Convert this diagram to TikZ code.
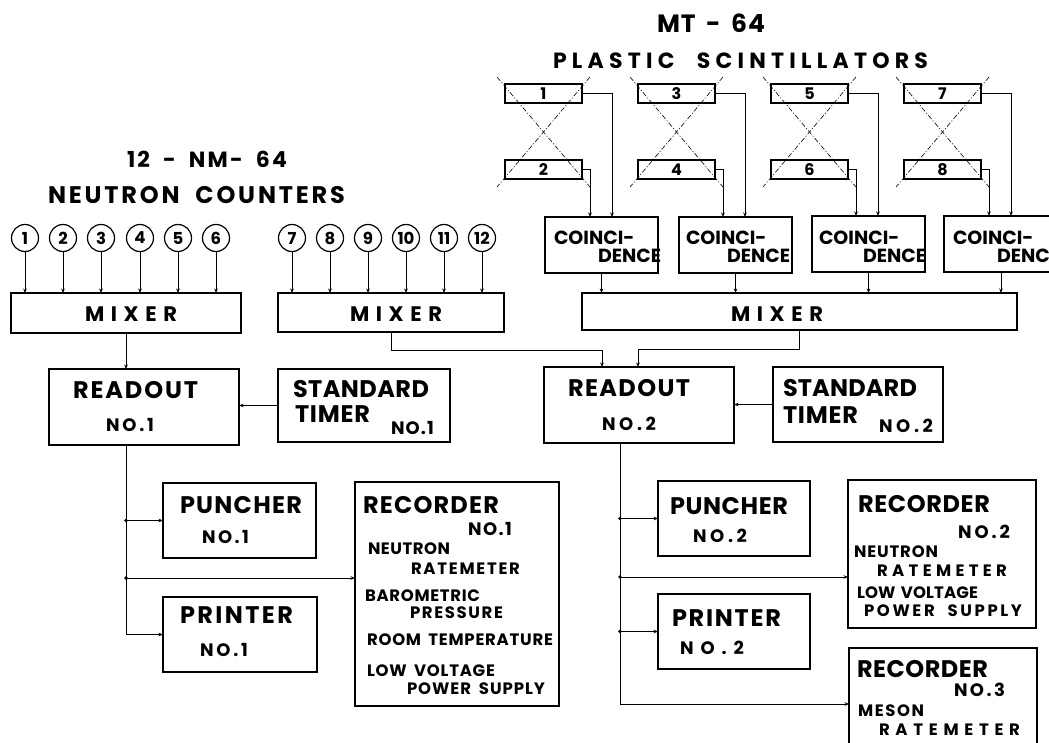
\documentclass[tikz,border=0pt]{standalone}
\usepackage{fontspec}
\setmainfont{Poppins}
\usetikzlibrary{arrows.meta,calc}
\def\sprA#1{#1\sprB}
\def\sprB#1{\ifx\relax#1\else\hfil#1\expandafter\sprB\fi}
\newcommand\spr[2]{\makebox[#1pt][s]{\sprA#2\relax}}
\newcommand\gap{\hskip .3em\hfil}
\newcommand\fL{\fontsize{24}{24}\selectfont}
\newcommand\fM{\fontsize{18}{18}\selectfont}
\newcommand\fS{\fontsize{16.5}{16.5}\selectfont}
\newcommand\fC{\fontsize{19}{19}\selectfont}
\newcommand\bxat[5]{\node[bx,anchor=north west,minimum width=#4pt,minimum height=#5pt] (#1) at (#2,#3) {};}
\begin{document}
\begin{tikzpicture}[x=1pt,y=-1pt,font=\bfseries,
  bx/.style={draw,line width=1.6pt,inner sep=0pt,outer sep=0pt},
  sbx/.style={draw,line width=1.5pt,inner sep=0pt,outer sep=0pt,minimum width=77pt,minimum height=19pt,anchor=north west,font=\bfseries\fontsize{16}{16}\selectfont},
  cnt/.style={draw,circle,line width=1.2pt,minimum size=27pt,inner sep=0pt,font=\bfseries\fontsize{16.5}{16.5}\selectfont},
  ln/.style={line width=0.9pt},
  arr/.style={ln,-{Stealth[length=4.5pt,width=3.6pt]}},
  xl/.style={line width=0.6pt,dash pattern=on 5pt off 2pt on 1pt off 2pt},
  tx/.style={inner sep=0pt,outer sep=0pt,anchor=west}]
\fill[white] (0,0) rectangle (1049,743);
\useasboundingbox (0,0) rectangle (1049,743);

% titles
\node[tx] (tMT) at (657,23) {\fontsize{25}{25}\selectfont\spr{108}{MT\gap-\gap64}};
\node[tx] (tPS) at (553,61) {\fontsize{22}{22}\selectfont\spr{375}{PLASTIC\gap SCINTILLATORS}};
\node[tx] (tNM) at (127,159) {\fontsize{22}{22}\selectfont\spr{160}{12\gap-\gap NM-\gap64}};
\node[tx] (tNC) at (48,195) {\fontsize{24}{24}\selectfont\spr{297}{NEUTRON\gap COUNTERS}};

% boxes
\bxat{mx1}{11}{293}{230}{40}
\bxat{mx2}{278}{293}{226}{39}
\bxat{mx3}{582}{293}{435}{37}
\bxat{ro1}{49}{369}{190}{76}
\bxat{tm1}{278}{369}{172}{73}
\bxat{ro2}{544}{367}{190}{76}
\bxat{tm2}{773}{367}{170}{75}
\bxat{pu1}{163}{483}{153}{75}
\bxat{pr1}{163}{597}{154}{75}
\bxat{rc1}{355}{482}{204}{224}
\bxat{pu2}{658}{481}{152}{75}
\bxat{pr2}{658}{594}{152}{75}
\bxat{rc2}{848}{480}{188}{148}
\bxat{rc3}{849}{648}{188}{112}
\bxat{co1}{545}{217}{113}{56}
\bxat{co2}{679}{217}{113}{56}
\bxat{co3}{812}{216}{113}{56}
\bxat{co4}{944}{216}{114}{56}

% neutron counters
\foreach \n/\x in {1/25,2/63,3/101,4/140,5/178,6/216}{
  \node[cnt] (n\n) at (\x,238) {\n};
  \draw[arr] (n\n.south) -- (n\n.south |- mx1.north);
}
\foreach \n/\x in {7/292,8/330,9/368,10/406,11/444,12/482}{
  \node[cnt] (n\n) at (\x,238) {\n};
  \draw[arr] (n\n.south) -- (n\n.south |- mx2.north);
}

% scintillators
\foreach \a/\b/\L/\c in {1/2/505/co1,3/4/638/co2,5/6/771/co3,7/8/904/co4}{
  \node[sbx] (s\a) at (\L,84) {\a};
  \node[sbx] (s\b) at (\L,160) {\b};
  \draw[xl] ($(s\a.north west)+(-8,-7)$) -- ($(s\b.south east)+(8,8)$);
  \draw[xl] ($(s\a.north east)+(8,-7)$) -- ($(s\b.south west)+(-8,8)$);
  \draw[arr] (s\a.east) -- ++(30,0) coordinate (ka\a) -- (ka\a |- \c.north);
  \draw[arr] (s\b.east) -- ++(8,0) coordinate (kb\b) -- (kb\b |- \c.north);
  \draw[arr] (\c.south) -- (\c.south |- mx3.north);
}

% mixers to readouts
\draw[arr] (mx1.south) -- (mx1.south |- ro1.north);
\coordinate (a1) at (602,350);
\coordinate (a2) at (638,349);
\draw[arr] (mx2.south) |- (a1) -- (a1 |- ro2.north);
\draw[arr] (mx3.south) |- (a2) -- (a2 |- ro2.north);
\draw[arr] (tm1.west) -- (tm1.west -| ro1.east);
\draw[arr] (tm2.west) -- (tm2.west -| ro2.east);

% readout 1 tree
\coordinate (j1) at (126,578);
\draw[arr] (mx1.south |- ro1.south) |- (pr1.west);
\draw[arr] (mx1.south |- pu1.west) -- (pu1.west);
\draw[arr] (j1) -- (j1 -| rc1.west);
\fill (mx1.south |- pu1.west) circle (1.8);
\fill (j1) circle (1.8);

% readout 2 tree
\coordinate (j4) at (620,704);
\coordinate (j3) at (620,577);
\draw[arr] (j4 |- ro2.south) |- (rc3.west);
\draw[arr] (j4 |- pu2.west) -- (pu2.west);
\draw[arr] (j4 |- pr2.west) -- (pr2.west);
\draw[arr] (j3) -- (j3 -| rc2.west);
\fill (j4 |- pu2.west) circle (1.8);
\fill (j3) circle (1.8);
\fill (j4 |- pr2.west) circle (1.8);

% texts
\node[tx] (tmx1) at (85,314) {\fontsize{21}{21}\selectfont\spr{92}{MIXER}};
\node[tx] (tmx2) at (350,314) {\fontsize{21}{21}\selectfont\spr{92}{MIXER}};
\node[tx] (tmx3) at (731,314) {\fontsize{21}{21}\selectfont\spr{92}{MIXER}};

\node[tx] (tro1) at (73,390) {\fL\spr{125}{READOUT}};
\node[tx] (tron1) at (106,425) {\fM\spr{48}{NO.1}};
\node[tx] (tro2) at (568,388) {\fL\spr{122}{READOUT}};
\node[tx] (tron2) at (602,424) {\fM\spr{54}{NO.2}};
\node[tx] (tst1) at (293,389) {\fL\spr{136}{STANDARD}};
\node[tx] (tti1) at (295,414) {\fL\spr{75}{TIMER}};
\node[tx] (ttn1) at (391,428) {\fM\spr{43}{NO.1}};
\node[tx] (tst2) at (783,388) {\fL\spr{134}{STANDARD}};
\node[tx] (tti2) at (783,415) {\fL\spr{75}{TIMER}};
\node[tx] (ttn2) at (879,426) {\fM\spr{54}{NO.2}};

\node[tx] (tpu1) at (180,505) {\fL\spr{122}{PUNCHER}};
\node[tx] (tpun1) at (202,537) {\fM\spr{47}{NO.1}};
\node[tx] (tpr1) at (180,615) {\fL\spr{113}{PRINTER}};
\node[tx] (tprn1) at (200,650) {\fM\spr{48}{NO.1}};
\node[tx] (tpu2) at (670,506) {\fL\spr{118}{PUNCHER}};
\node[tx] (tpun2) at (693,536) {\fM\spr{54}{NO.2}};
\node[tx] (tpr2) at (672,618) {\fL\spr{109}{PRINTER}};
\node[tx] (tprn2) at (680,648) {\fM\spr{64}{NO.2}};

\node[tx] (trc1) at (363,505) {\fL\spr{136}{RECORDER}};
\node[tx] (trcn1) at (468,529) {\fM\spr{44}{NO.1}};
\node[tx] (tr1a) at (368,549) {\fS\spr{82}{NEUTRON}};
\node[tx] (tr1b) at (411,569) {\fS\spr{109}{RATEMETER}};
\node[tx] (tr1c) at (365,596) {\fS\spr{115}{BAROMETRIC}};
\node[tx] (tr1d) at (410,613) {\fS\spr{93}{PRESSURE}};
\node[tx] (tr1e) at (367,640) {\fS\spr{186}{ROOM\gap TEMPERATURE}};
\node[tx] (tr1f) at (367,671) {\fS\spr{128}{LOW\gap VOLTAGE}};
\node[tx] (tr1g) at (407,689) {\fS\spr{138}{POWER\gap SUPPLY}};

\node[tx] (trc2) at (858,504) {\fL\spr{132}{RECORDER}};
\node[tx] (trcn2) at (958,532) {\fM\spr{52}{NO.2}};
\node[tx] (tr2a) at (854,552) {\fS\spr{84}{NEUTRON}};
\node[tx] (tr2b) at (877,571) {\fS\spr{130}{RATEMETER}};
\node[tx] (tr2c) at (857,593) {\fS\spr{121}{LOW\gap VOLTAGE}};
\node[tx] (tr2d) at (864,611) {\fS\spr{158}{POWER\gap SUPPLY}};

\node[tx] (trc3) at (857,669) {\fL\spr{131}{RECORDER}};
\node[tx] (trcn3) at (954,690) {\fM\spr{51}{NO.3}};
\node[tx] (tr3a) at (858,711) {\fS\spr{66}{MESON}};
\node[tx] (tr3b) at (879,730) {\fS\spr{141}{RATEMETER}};

\node[tx] (tc1a) at (554,238) {\fC\spr{70}{COINCI-}};
\node[tx] (tc1b) at (598,256) {\fC\spr{55}{DENCE}};
\node[tx] (tc2a) at (686,238) {\fC\spr{68}{COINCI-}};
\node[tx] (tc2b) at (727,256) {\fC\spr{56}{DENCE}};
\node[tx] (tc3a) at (819,238) {\fC\spr{68}{COINCI-}};
\node[tx] (tc3b) at (863,256) {\fC\spr{53}{DENCE}};
\node[tx] (tc4a) at (953,238) {\fC\spr{69}{COINCI-}};
\node[tx] (tc4b) at (997,256) {\fC\spr{55}{DENCE}};
\end{tikzpicture}
\end{document}
